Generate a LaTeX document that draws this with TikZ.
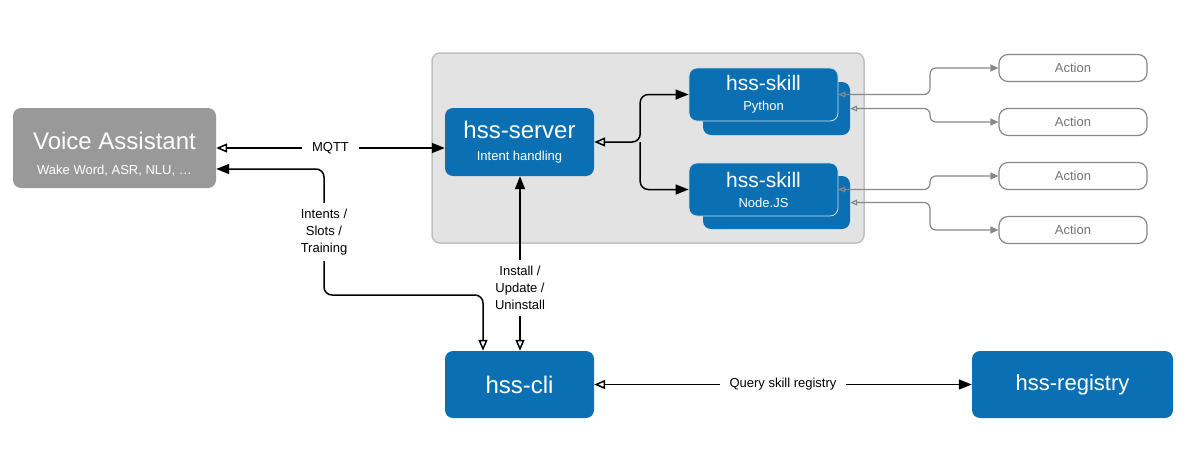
\documentclass[tikz,border=0pt]{standalone}
\usepackage{fontspec}
\setmainfont{Liberation Sans}
\usetikzlibrary{arrows.meta, positioning}

\definecolor{hssblue}{HTML}{0A70B3}
\definecolor{vagray}{HTML}{999999}
\definecolor{hostgray}{HTML}{E3E3E3}
\definecolor{hostline}{HTML}{C0C0C0}
\definecolor{actgray}{HTML}{878787}
\definecolor{skillline}{HTML}{C9DCEA}

\newcommand{\smalltxt}[1]{{\fontsize{13}{15}\selectfont #1}}

\begin{document}
\begin{tikzpicture}[
    x=1pt,
    y=-1pt,
    comp/.style={fill=hssblue, text=white, rounded corners=8pt,
        align=center, inner sep=0pt},
    skill/.style={comp, minimum width=149pt, minimum height=53pt,
        font=\fontsize{21}{20}\selectfont},
    skillback/.style={fill=hssblue, rounded corners=8pt,
        minimum width=147pt, minimum height=53pt},
    action/.style={draw=actgray, line width=1.2pt, rounded corners=9pt,
        text=actgray!85!black, minimum width=148pt, minimum height=27pt,
        inner sep=0pt, font=\fontsize{13}{15}\selectfont},
    lbl/.style={fill=white, align=center, inner xsep=10pt, inner ysep=6pt,
        font=\fontsize{13}{17}\selectfont},
    link/.style={line width=1.5pt,
        {Triangle[open, length=11pt, width=9pt]}-{Triangle[length=13pt, width=10pt]}},
    onlyto/.style={line width=1.5pt, -{Triangle[length=13pt, width=10pt]}},
    glink/.style={draw=actgray, line width=1.2pt, rounded corners=6pt,
        {Triangle[open, length=7pt, width=6pt]}-{Triangle[length=8pt, width=7pt]}},
]
    \useasboundingbox (0,0) rectangle (1188,474);

    % host machine
    \node[fill=hostgray, draw=hostline, line width=1.5pt, rounded corners=8pt,
        minimum width=432pt, minimum height=190pt] (host) at (648,148) {};

    \node[fill=vagray, text=white, rounded corners=8pt, align=center,
        minimum width=203pt, minimum height=80pt, inner sep=0pt,
        font=\fontsize{24}{25}\selectfont] (va) at (114.5,148)
        {\rule{0pt}{29pt}Voice Assistant\\\smalltxt{Wake Word, ASR, NLU, \dots}};

    \node[comp, minimum width=149pt, minimum height=68pt,
        font=\fontsize{24}{22}\selectfont] (server) at (519.5,142)
        {hss-server\\\smalltxt{Intent handling}};

    % skills, each with a second box behind it
    \node[skillback] (pyback) at (776.5,108.5) {};
    \node[skill, draw=skillline, line width=0.8pt] (pyfront) at (763.5,94.5)
        {hss-skill\\\smalltxt{Python}};
    \node[skillback] (jsback) at (776.5,202.5) {};
    \node[skill, draw=skillline, line width=0.8pt] (jsfront) at (763.5,189.5)
        {hss-skill\\\smalltxt{Node.JS}};

    \node[action] (act1) at (1073,68)  {Action};
    \node[action] (act2) at (1073,122) {Action};
    \node[action] (act3) at (1073,176) {Action};
    \node[action] (act4) at (1073,230) {Action};

    \node[comp, minimum width=149pt, minimum height=67pt,
        font=\fontsize{24}{26}\selectfont] (cli) at (519.5,384.5) {hss-cli};
    \node[comp, minimum width=201pt, minimum height=67pt,
        font=\fontsize{22}{24}\selectfont] (registry) at (1072.5,384.5) {hss-registry};

    \coordinate (fork)  at ([xshift=46pt]server.east);
    \coordinate (xbend) at (930,0);
    \coordinate (vain)  at ([yshift=-21pt]va.east);
    \coordinate (trainbend) at (324,295);

    \draw[link] (va.east) -- node[lbl] {MQTT} (va.east -| server.west);
    \draw[link, rounded corners=8pt] ([xshift=-36.5pt]cli.north) |- (trainbend)
        -- node[lbl] {Intents /\\Slots /\\Training} (trainbend |- vain) -- (vain);
    \draw[link] ([xshift=0.5pt]cli.north) -- node[lbl, pos=0.36]
        {Install /\\Update /\\Uninstall} ([xshift=0.5pt]server.south);
    \draw[link] (cli.east) -- node[lbl] {Query skill registry} (registry.west);

    \draw[link, rounded corners=8pt] (server.east) -- (fork) |- (pyfront.west);
    \draw[onlyto, rounded corners=8pt] (fork) |- (jsfront.west);

    \draw[glink] (pyfront.east) -- (pyfront.east -| xbend) |- (act1.west);
    \draw[glink] (pyback.east)  -- (pyback.east -| xbend)  |- (act2.west);
    \draw[glink] (jsfront.east) -- (jsfront.east -| xbend) |- (act3.west);
    \draw[glink] (jsback.east)  -- (jsback.east -| xbend)  |- (act4.west);
\end{tikzpicture}
\end{document}
